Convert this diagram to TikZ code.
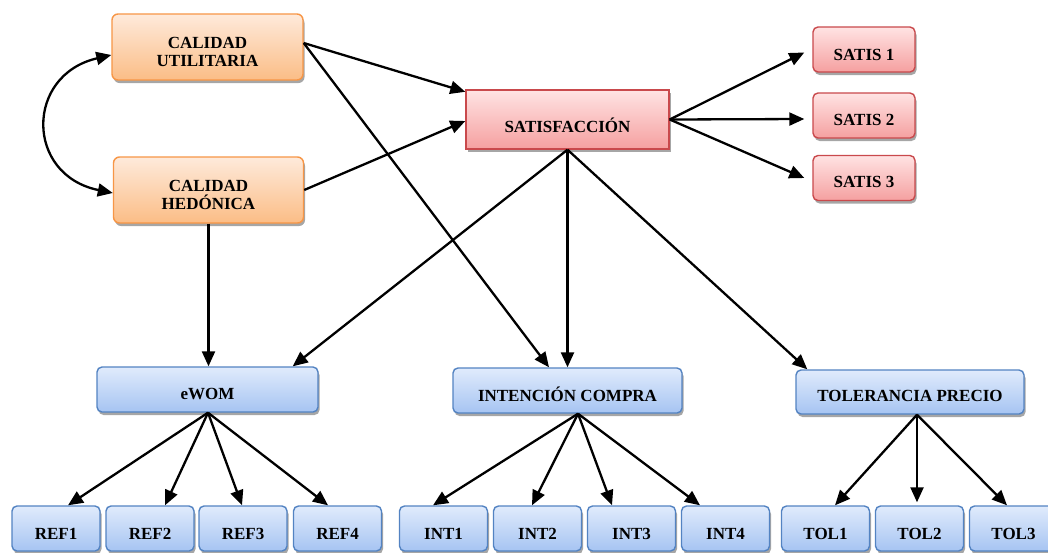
\documentclass[tikz,border=0pt]{standalone}
\usepackage{fontspec}
\setmainfont{Liberation Serif}
\usetikzlibrary{arrows.meta,shadows}
\definecolor{orB}{HTML}{F79646}
\definecolor{orT}{HTML}{FEEADB}
\definecolor{orD}{HTML}{FBBD86}
\definecolor{rdB}{HTML}{C9494C}
\definecolor{rdT}{HTML}{FFE3E3}
\definecolor{rdD}{HTML}{F5A0A0}
\definecolor{blB}{HTML}{5383C2}
\definecolor{blT}{HTML}{E0EBFC}
\definecolor{blD}{HTML}{A6C4F2}
\tikzset{
  base/.style={draw, line width=1.4pt, inner sep=0pt,
    drop shadow={shadow xshift=1.5pt, shadow yshift=-3pt, fill=black, opacity=0.35}},
  obox/.style={base, rounded corners=6pt, draw=orB, top color=orT, bottom color=orD},
  rsq/.style={base, draw=rdB, top color=rdT, bottom color=rdD},
  rbox/.style={base, rounded corners=5pt, draw=rdB, top color=rdT, bottom color=rdD},
  bbox/.style={base, rounded corners=5pt, draw=blB, top color=blT, bottom color=blD},
  lbl/.style={font=\bfseries\fontsize{17}{18}\selectfont, align=center, inner sep=0pt, text=black},
  arr/.style={line width=2.3pt, -{Triangle[length=15pt,width=13pt]}},
  darr/.style={line width=2.3pt, {Triangle[length=15pt,width=13pt]}-{Triangle[length=15pt,width=13pt]}},
}
\begin{document}
\begin{tikzpicture}[x=1pt,y=-1pt]
\useasboundingbox (0,0) rectangle (1048,552);
\clip (0,0) rectangle (1048,552);
\fill[white] (0,0) rectangle (1048,552);
% top boxes
\node[obox, minimum width=191pt, minimum height=66pt] (cu) at (207.5,47) {};
\node[lbl] at ([yshift=-5pt]cu.center) {CALIDAD\\UTILITARIA};
\node[obox, minimum width=190pt, minimum height=66pt] (ch) at (208.5,190) {};
\node[lbl] at ([yshift=-5pt]ch.center) {CALIDAD\\HEDÓNICA};
\node[rsq, minimum width=203pt, minimum height=59pt] (sat) at (567.5,119.5) {};
\node[lbl] at ([yshift=-6pt]sat.center) {SATISFACCIÓN};
\node[rbox, minimum width=102pt, minimum height=45pt] (s1) at (864,49.5) {};
\node[lbl] at ([yshift=-5pt]s1.center) {SATIS 1};
\node[rbox, minimum width=102pt, minimum height=45pt] (s2) at (864,115.5) {};
\node[lbl] at ([yshift=-4.5pt]s2.center) {SATIS 2};
\node[rbox, minimum width=102pt, minimum height=45pt] (s3) at (864,178) {};
\node[lbl] at ([yshift=-4pt]s3.center) {SATIS 3};
% middle boxes
\node[bbox, minimum width=221pt, minimum height=45pt] (ew) at (207.5,389.5) {};
\node[lbl] at ([yshift=-4pt]ew.center) {eWOM};
\node[bbox, minimum width=229pt, minimum height=45pt] (ic) at (567.5,390.5) {};
\node[lbl] at ([yshift=-4pt]ic.center) {INTENCIÓN COMPRA};
\node[bbox, minimum width=228pt, minimum height=44pt] (tp) at (910,392) {};
\node[lbl] at ([yshift=-4pt]tp.center) {TOLERANCIA PRECIO};
% bottom boxes
\foreach \n/\x/\t in {r1/56/REF1, r2/150/REF2, r3/243/REF3, r4/337.5/REF4,
  i1/443.5/INT1, i2/537.5/INT2, i3/631.5/INT3, i4/725.5/INT4,
  t1/825.5/TOL1, t2/919.5/TOL2, t3/1013.5/TOL3}{
  \node[bbox, minimum width=88pt, minimum height=45pt] (\n) at (\x,528.5) {};
  \node[lbl] at ([yshift=-5pt]\n.center) {\t};
}
% connectors
\draw[darr] ([yshift=-8pt]cu.west) .. controls (25,75) and (25,175) .. ([yshift=-3pt]ch.west);
\draw[arr] ([yshift=4pt]cu.east) -- ([yshift=-2.5pt]sat.north west);
\draw[arr] ([yshift=4pt]cu.east) -- ([xshift=-18.5pt]ic.north);
\draw[arr] (ch.east) -- ([yshift=-1.5pt]sat.west);
\draw[arr] (ch.south) -- (ch.south |- ew.north);
\draw[arr] (sat.east) -- ([xshift=-8pt,yshift=-3pt]s1.west);
\draw[arr] (sat.east) -- ([xshift=-8pt,yshift=-3.5pt]s2.west);
\draw[arr] (sat.east) -- ([xshift=-8pt]s3.west);
\draw[arr] (sat.south) -- ([xshift=-26pt]ew.north east);
\draw[arr] (sat.south) -- (sat.south |- ic.north);
\draw[arr] (sat.south) -- ([xshift=12pt]tp.north west);
% eWOM
\coordinate (eo) at ([xshift=0.5pt]ew.south);
\draw[arr] (eo) -- ([xshift=12pt]r1.north);
\draw[arr] (eo) -- ([xshift=15pt]r2.north);
\draw[arr] (eo) -- ([xshift=-1pt]r3.north);
\draw[arr] (eo) -- ([xshift=-9.5pt]r4.north);
% intencion
\coordinate (io) at ([xshift=10.5pt]ic.south);
\draw[arr] (io) -- ([xshift=-10.5pt]i1.north);
\draw[arr] (io) -- ([xshift=-5.5pt]i2.north);
\draw[arr] (io) -- ([xshift=-19.5pt]i3.north);
\draw[arr] (io) -- ([xshift=-25.5pt]i4.north);
% tolerancia
\coordinate (to) at ([xshift=7pt]tp.south);
\draw[arr] (to) -- ([xshift=9.5pt]t1.north);
\draw[arr] (to) -- ([yshift=3pt]to |- t2.north);
\draw[arr] (to) -- ([xshift=-6.5pt]t3.north);
\end{tikzpicture}
\end{document}
